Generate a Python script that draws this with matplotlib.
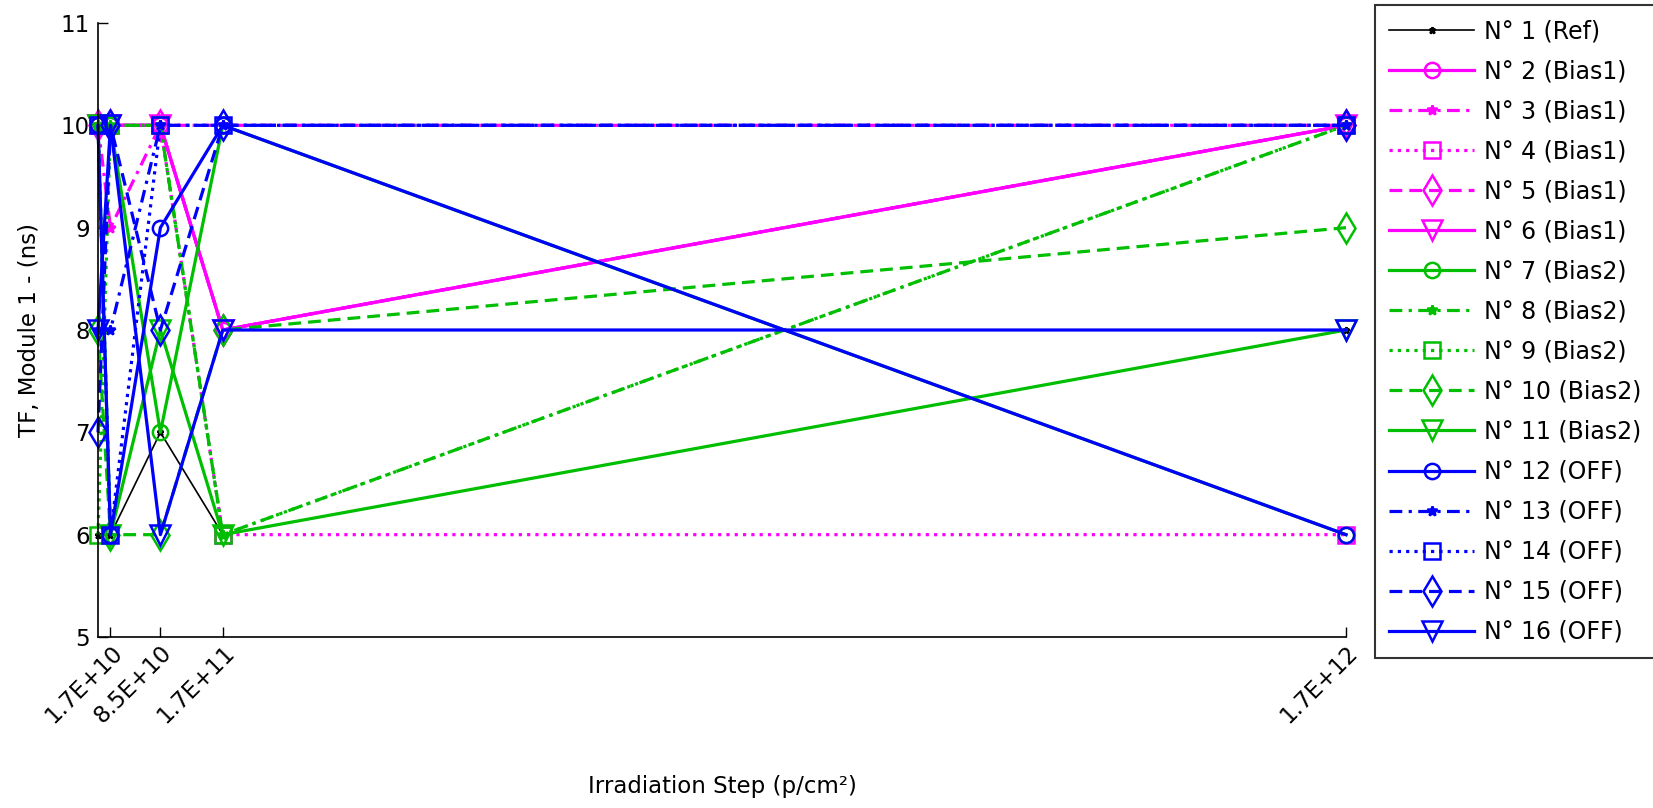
import matplotlib
matplotlib.use("Agg")
import matplotlib.pyplot as plt

plt.rcParams['font.family'] = ['DejaVu Sans']

# Irradiation steps (p/cm²); 0 is the pre-irradiation reading
steps = [0.0, 1.7e10, 8.5e10, 1.7e11, 1.7e12]
tick_steps = [1.7e10, 8.5e10, 1.7e11, 1.7e12]
tick_labels = ['1.7E+10', '8.5E+10', '1.7E+11', '1.7E+12']

labels = ['N° 1 (Ref)', 'N° 2 (Bias1)', 'N° 3 (Bias1)', 'N° 4 (Bias1)',
          'N° 5 (Bias1)', 'N° 6 (Bias1)', 'N° 7 (Bias2)', 'N° 8 (Bias2)',
          'N° 9 (Bias2)', 'N° 10 (Bias2)', 'N° 11 (Bias2)', 'N° 12 (OFF)',
          'N° 13 (OFF)', 'N° 14 (OFF)', 'N° 15 (OFF)', 'N° 16 (OFF)']

# TF values (ns) per module at each step
tf_01 = [6, 6, 7, 6, 8]
tf_02 = [10, 10, 10, 8, 10]
tf_03 = [10, 9, 10, 10, 10]
tf_04 = [10, 10, 10, 6, 6]
tf_05 = [10, 10, 10, 8, 10]
tf_06 = [10, 10, 10, 8, 10]
tf_07 = [10, 10, 7, 10, 6]
tf_08 = [10, 10, 10, 6, 10]
tf_09 = [6, 10, 10, 6, 10]
tf_10 = [8, 6, 6, 8, 9]
tf_11 = [10, 6, 8, 6, 8]
tf_12 = [10, 6, 9, 10, 6]
tf_13 = [8, 8, 10, 10, 10]
tf_14 = [10, 6, 10, 10, 10]
tf_15 = [7, 10, 8, 10, 10]
tf_16 = [8, 10, 6, 8, 8]

series = [tf_01, tf_02, tf_03, tf_04, tf_05, tf_06, tf_07, tf_08,
          tf_09, tf_10, tf_11, tf_12, tf_13, tf_14, tf_15, tf_16]

MAG = (1.0, 0.0, 1.0)
GRN = (0.0, 0.75, 0.0)
BLU = (0.0, 0.0, 1.0)

SOLID = '-'
DASHDOT = (0, (4, 2, 1, 2))
DOTTED = (0, (1, 1.6))
DASHED = (0, (4, 2.2))

# line style, marker, marker size for the five modules of a bias group
group_styles = [
    (SOLID, 'o', 11),
    (DASHDOT, '*', 7),
    (DOTTED, 's', 12),
    (DASHED, 'd', 15),
    (SOLID, 'v', 15),
]

styles = [dict(color='black', ls=SOLID, marker='*', ms=5, lw=1.2)]
for col in (MAG, GRN, BLU):
    for ls, mk, ms in group_styles:
        styles.append(dict(color=col, ls=ls, marker=mk, ms=ms, lw=2.3))

FS = 16.5

fig = plt.figure(figsize=(16.53, 8.08), dpi=100)
ax = fig.add_axes([98 / 1653, 171 / 808, 1248 / 1653, 614 / 808])

for vals, lab, st in zip(series, labels, styles):
    filled = st['marker'] == '*'
    ax.plot(steps, vals, color=st['color'], linestyle=st['ls'], lw=st['lw'],
            marker=st['marker'], markersize=st['ms'],
            markerfacecolor=st['color'] if filled else 'none',
            markeredgecolor=st['color'], markeredgewidth=1.8,
            label=lab, clip_on=False)

ax.set_xlim(0, 1.7e12)
ax.set_ylim(5, 11)
ax.set_yticks([5, 6, 7, 8, 9, 10, 11])
ax.set_xticks(tick_steps)
ax.set_xticklabels(tick_labels, rotation=45, ha='right', rotation_mode='anchor')
ax.tick_params(direction='in', length=7, width=1, labelsize=FS, colors='black')
ax.tick_params(axis='x', pad=3)
ax.tick_params(axis='y', pad=6)
for side in ('top', 'right'):
    ax.spines[side].set_visible(False)
for side in ('left', 'bottom'):
    ax.spines[side].set_linewidth(1.2)

ax.set_xlabel('Irradiation Step (p/cm²)', fontsize=FS)
ax.set_ylabel('TF, Module 1 - (ns)', fontsize=FS)
ax.xaxis.set_label_coords(0.5, -0.225)
ax.yaxis.set_label_coords(-0.046, 0.5)

leg = fig.legend(loc='upper left', bbox_to_anchor=(1375 / 1653, 1 - 5 / 808),
                 borderaxespad=0, fontsize=17, frameon=True, fancybox=False,
                 handlelength=3.6, handletextpad=0.4, labelspacing=0.68,
                 borderpad=0.6)
leg.get_frame().set_edgecolor('black')
leg.get_frame().set_linewidth(1.5)

fig.savefig('out.png', dpi=100)
